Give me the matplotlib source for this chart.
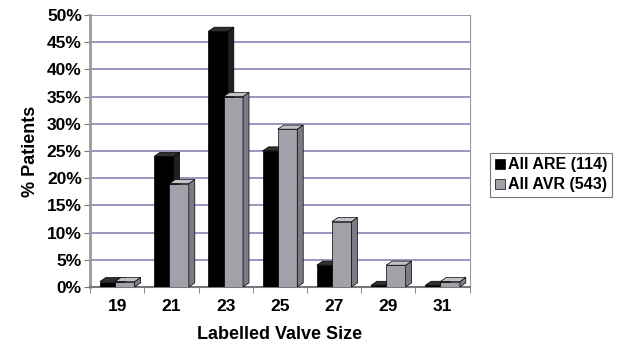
import matplotlib.pyplot as plt
from matplotlib.patches import Polygon
import numpy as np

sizes = ['19', '21', '23', '25', '27', '29', '31']
are_pct = [1, 24, 47, 25, 4, 0.3, 0.3]
avr_pct = [1, 19, 35, 29, 12, 4, 1]
series_names = ['All ARE (114)', 'All AVR (543)']

plt.rcParams['font.family'] = ['Liberation Sans', 'DejaVu Sans']
plt.rcParams['font.weight'] = 'bold'

fig = plt.figure(figsize=(6.22, 3.47), dpi=100)
ax = fig.add_axes([0.145, 0.173, 0.61, 0.784])

x = np.arange(len(sizes))
w = 0.36
dx, dy = 0.11, 0.75  # fake 3d depth (data units)

def bar3d(xs, vals, face, side, top, label):
    bars = ax.bar(xs, vals, width=w, color=face, edgecolor='black',
                  linewidth=0.5, label=label, zorder=3)
    for b in bars:
        x0 = b.get_x()
        x1 = x0 + b.get_width()
        h = b.get_height()
        ax.add_patch(Polygon([(x1, 0), (x1 + dx, dy), (x1 + dx, h + dy), (x1, h)],
                             closed=True, facecolor=side, edgecolor='black',
                             linewidth=0.5, zorder=3))
        ax.add_patch(Polygon([(x0, h), (x0 + dx, h + dy), (x1 + dx, h + dy), (x1, h)],
                             closed=True, facecolor=top, edgecolor='black',
                             linewidth=0.5, zorder=3))
    return bars

bar3d(x - w / 2 + 0.04, are_pct, 'black', '#202020', '#303030', series_names[0])
bar3d(x + w / 2 - 0.04, avr_pct, '#a3a0aa', '#7d7a85', '#c4c2c8', series_names[1])

ax.set_xlim(-0.5, len(sizes) - 0.5)
ax.set_ylim(0, 50)
ax.set_yticks(np.arange(0, 51, 5))
ax.set_yticklabels([f'{v}%' for v in range(0, 51, 5)], fontsize=12.5, fontweight='bold')
ax.set_xticks(x)
ax.set_xticklabels(sizes, fontsize=12.5, fontweight='bold')
ax.set_xticks(np.arange(-0.5, len(sizes), 1), minor=True)
ax.tick_params(axis='x', which='major', length=0, pad=9)
ax.tick_params(axis='x', which='minor', length=4, color='#777777')
ax.tick_params(axis='y', length=4, color='#777777', pad=2)

ax.yaxis.grid(True, color='#8a84b0', linewidth=1.2, zorder=0)
ax.spines['top'].set_visible(False)
ax.spines['right'].set_color('#999999')
ax.spines['left'].set_color('#999999')
ax.spines['left'].set_linewidth(2)
ax.spines['bottom'].set_color('#777777')
ax.spines['bottom'].set_linewidth(1.5)

ax.set_ylabel('% Patients', fontsize=13, fontweight='bold', labelpad=6)
ax.set_xlabel('Labelled Valve Size', fontsize=13, fontweight='bold', labelpad=8)

leg = fig.legend(loc='upper left', bbox_to_anchor=(0.788, 0.56),
                 prop={'size': 11.5, 'weight': 'bold'},
                 frameon=True, fancybox=False, edgecolor='#555555',
                 handlelength=0.6, handleheight=0.6, handletextpad=0.2,
                 borderpad=0.3, borderaxespad=0, labelspacing=0.3)
leg.get_frame().set_linewidth(0.8)

fig.savefig('out.png', dpi=100)
